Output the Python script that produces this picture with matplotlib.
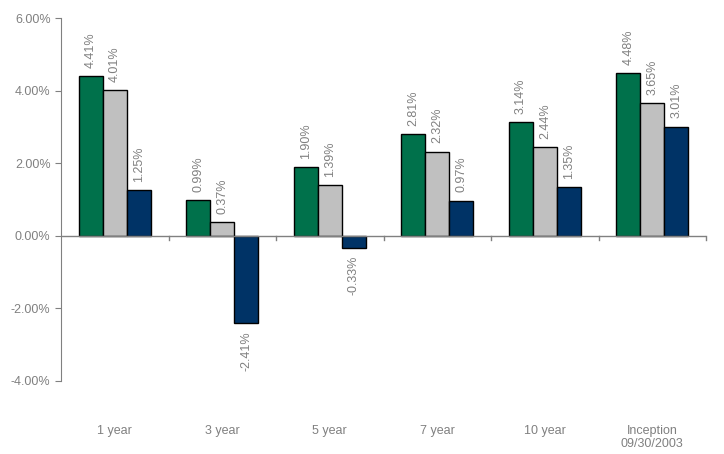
import numpy as np
import matplotlib
matplotlib.use('Agg')
import matplotlib.pyplot as plt
import matplotlib.transforms as mtransforms

plt.rcParams['font.family'] = ['Liberation Sans', 'DejaVu Sans']

categories = ['1 year', '3 year', '5 year', '7 year', '10 year', 'Inception\n09/30/2003']
series_a = [4.41, 0.99, 1.90, 2.81, 3.14, 4.48]
series_b = [4.01, 0.37, 1.39, 2.32, 2.44, 3.65]
series_c = [1.25, -2.41, -0.33, 0.97, 1.35, 3.01]
colors = ['#00714B', '#C0C0C0', '#003366']
text_color = '#808080'

fig = plt.figure(figsize=(7.24, 4.54), dpi=100)
ax = fig.add_axes([0.0843, 0.161, 0.891, 0.799])

x = np.arange(len(categories))
w = 0.223
for i, (vals, c) in enumerate(zip([series_a, series_b, series_c], colors)):
    pos = x + (i - 1) * w
    ax.bar(pos, vals, w, color=c, edgecolor='black', linewidth=1, zorder=3)
    for px, v in zip(pos, vals):
        if v >= 0:
            ax.annotate(f'{v:.2f}%', (px, v), xytext=(0, 6), textcoords='offset points',
                        rotation=90, ha='center', va='bottom', fontsize=9, color=text_color)
        else:
            ax.annotate(f'{v:.2f}%', (px, v), xytext=(0, -6), textcoords='offset points',
                        rotation=90, ha='center', va='top', fontsize=9, color=text_color)

ax.set_xlim(-0.5, len(categories) - 0.5)
ax.set_ylim(-4, 6)
ax.set_yticks([-4, -2, 0, 2, 4, 6])
ax.set_yticklabels([f'{t:.2f}%' for t in [-4, -2, 0, 2, 4, 6]])
ax.tick_params(axis='y', colors='#808080', labelcolor=text_color, labelsize=9, length=4, direction='out')

for s in ['top', 'right', 'bottom']:
    ax.spines[s].set_visible(False)
ax.spines['left'].set_color('#808080')
ax.set_xticks([])
ax.axhline(0, color='#808080', linewidth=1, zorder=4)
for b in np.arange(0.5, len(categories), 1.0):
    ax.plot([b, b], [0, -0.12], color='#808080', linewidth=1, clip_on=False, zorder=4)

trans = mtransforms.blended_transform_factory(ax.transData, ax.transAxes)
for xi, lab in zip(x, categories):
    ax.text(xi, -0.122, lab, transform=trans, ha='center', va='top',
            fontsize=9, color=text_color, linespacing=1.05)

fig.savefig('out.png', dpi=100)
